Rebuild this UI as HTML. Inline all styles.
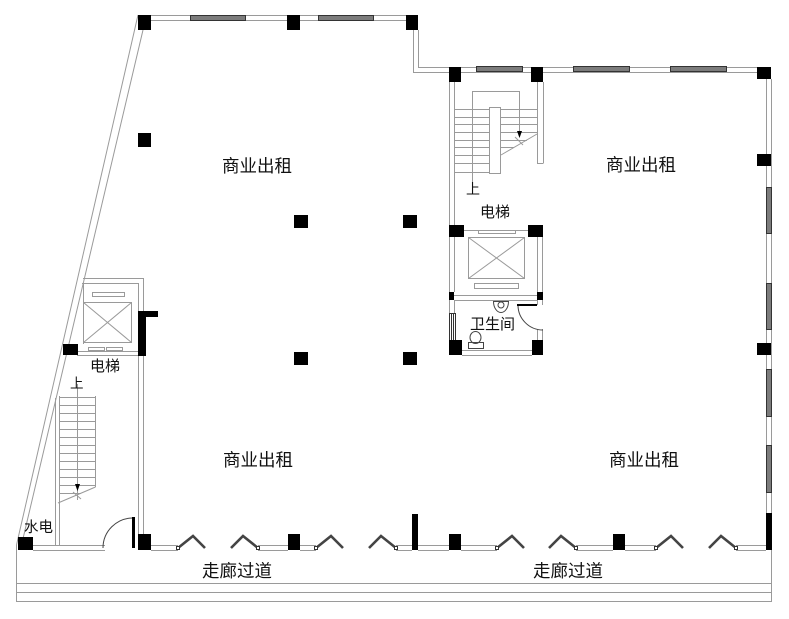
<!DOCTYPE html>
<html><head><meta charset="utf-8">
<style>
html,body{margin:0;padding:0;background:#fff;}
svg{display:block;}
text{font-family:"Liberation Sans","Noto Sans CJK SC",sans-serif;fill:#111;}
</style></head>
<body>
<svg width="789" height="619" viewBox="0 0 789 619" xmlns="http://www.w3.org/2000/svg">
<rect width="789" height="619" fill="#fff"/>
<g stroke="#9a9a9a" stroke-width="1" fill="none">
  <!-- top wall -->
  <line x1="151" y1="15.5" x2="406" y2="15.5"/>
  <line x1="151" y1="20.5" x2="406" y2="20.5"/>
  <!-- notch -->
  <polyline points="418.5,30 418.5,67.5 449,67.5"/>
  <polyline points="413.5,30 413.5,72.5 449,72.5"/>
  <!-- top right row -->
  <line x1="461" y1="67.5" x2="757" y2="67.5"/>
  <line x1="461" y1="72.5" x2="757" y2="72.5"/>
  <!-- right wall -->
  <line x1="766.5" y1="79" x2="766.5" y2="513"/>
  <line x1="771.5" y1="79" x2="771.5" y2="602"/>
  <!-- slanted left wall -->
  <line x1="138" y1="15" x2="16.5" y2="545"/>
  <line x1="143" y1="30" x2="21.5" y2="545"/>
  <!-- main left wall -->
  <line x1="138.5" y1="283" x2="138.5" y2="534"/>
  <line x1="143.5" y1="278" x2="143.5" y2="534"/>
  <!-- left compartment -->
  <line x1="83" y1="278.5" x2="143.5" y2="278.5"/>
  <line x1="82" y1="283.5" x2="138.5" y2="283.5"/>
  <line x1="83.5" y1="283" x2="83.5" y2="344"/>
  <rect x="83.5" y="302.5" width="48" height="40"/>
  <line x1="83.5" y1="302.5" x2="131.5" y2="342.5"/>
  <line x1="131.5" y1="302.5" x2="83.5" y2="342.5"/>
  <rect x="92.5" y="292.5" width="32" height="4"/>
  <rect x="88.5" y="347.5" width="16" height="3"/>
  <rect x="106.5" y="347.5" width="16" height="3"/>
  <line x1="77" y1="351.5" x2="138" y2="351.5"/>
  <line x1="77" y1="355.5" x2="138" y2="355.5"/>
  <!-- left stair compartment -->
  <line x1="55.5" y1="398" x2="55.5" y2="545"/>
  <line x1="59.5" y1="396" x2="59.5" y2="545"/>
  <line x1="95.5" y1="396" x2="95.5" y2="487"/>
  <line x1="77.5" y1="384" x2="77.5" y2="500"/>
  <line x1="59" y1="397.5" x2="95" y2="397.5"/>
  <line x1="59" y1="405.5" x2="95" y2="405.5"/>
  <line x1="59" y1="413.5" x2="95" y2="413.5"/>
  <line x1="59" y1="421.5" x2="95" y2="421.5"/>
  <line x1="59" y1="429.5" x2="95" y2="429.5"/>
  <line x1="59" y1="437.5" x2="95" y2="437.5"/>
  <line x1="59" y1="445.5" x2="95" y2="445.5"/>
  <line x1="59" y1="453.5" x2="95" y2="453.5"/>
  <line x1="59" y1="461.5" x2="95" y2="461.5"/>
  <line x1="59" y1="469.5" x2="95" y2="469.5"/>
  <line x1="59" y1="477.5" x2="95" y2="477.5"/>
  <line x1="59" y1="485.5" x2="95" y2="485.5"/>
  <line x1="59" y1="493.5" x2="81" y2="493.5"/>
  <line x1="58" y1="503" x2="95.5" y2="487"/>
  <line x1="73" y1="492" x2="81" y2="499"/>
  <!-- right stair compartment -->
  <line x1="449.5" y1="82" x2="449.5" y2="225"/>
  <line x1="454.5" y1="82" x2="454.5" y2="225"/>
  <line x1="537.5" y1="82" x2="537.5" y2="163"/>
  <line x1="543.5" y1="82" x2="543.5" y2="163"/>
  <line x1="537" y1="163.5" x2="543.5" y2="163.5"/>
  <polyline points="472.5,183 472.5,91.5 519.5,91.5 519.5,134"/>
  <rect x="489.5" y="107.5" width="11" height="66"/>
  <line x1="454" y1="109.5" x2="489" y2="109.5"/>
  <line x1="454" y1="117.5" x2="489" y2="117.5"/>
  <line x1="454" y1="124.5" x2="489" y2="124.5"/>
  <line x1="454" y1="132.5" x2="489" y2="132.5"/>
  <line x1="454" y1="140.5" x2="489" y2="140.5"/>
  <line x1="454" y1="147.5" x2="489" y2="147.5"/>
  <line x1="454" y1="155.5" x2="489" y2="155.5"/>
  <line x1="454" y1="163.5" x2="489" y2="163.5"/>
  <line x1="454" y1="172.5" x2="489" y2="172.5"/>
  <line x1="501" y1="109.5" x2="537" y2="109.5"/>
  <line x1="501" y1="117.5" x2="537" y2="117.5"/>
  <line x1="501" y1="124.5" x2="537" y2="124.5"/>
  <line x1="501" y1="132.5" x2="537" y2="132.5"/>
  <line x1="501" y1="140.5" x2="527" y2="140.5"/>
  <line x1="501" y1="147.5" x2="514" y2="147.5"/>
  <line x1="501" y1="155" x2="537" y2="134"/>
  <line x1="515" y1="137" x2="523" y2="145"/>
  <!-- right elevator -->
  <line x1="464" y1="230.5" x2="528" y2="230.5"/>
  <rect x="478.5" y="230.5" width="37" height="3"/>
  <line x1="449.5" y1="237" x2="449.5" y2="292"/>
  <line x1="454.5" y1="237" x2="454.5" y2="292"/>
  <line x1="537.5" y1="237" x2="537.5" y2="292"/>
  <line x1="542.5" y1="237" x2="542.5" y2="292"/>
  <rect x="468.5" y="237.5" width="56" height="41"/>
  <line x1="468.5" y1="237.5" x2="524.5" y2="278.5"/>
  <line x1="524.5" y1="237.5" x2="468.5" y2="278.5"/>
  <rect x="474.5" y="283.5" width="44" height="5"/>
  <line x1="454" y1="295.5" x2="537" y2="295.5"/>
  <line x1="454" y1="300.5" x2="537" y2="300.5"/>
  <!-- toilet -->
  <line x1="449.5" y1="300" x2="449.5" y2="313"/>
  <line x1="454.5" y1="300" x2="454.5" y2="313"/>
  <line x1="537.5" y1="300" x2="537.5" y2="305"/>
  <line x1="542.5" y1="300" x2="542.5" y2="305"/>
  <line x1="537.5" y1="329" x2="537.5" y2="340"/>
  <line x1="542.5" y1="329" x2="542.5" y2="340"/>
  <line x1="462" y1="350.5" x2="532" y2="350.5"/>
  <line x1="462" y1="355.5" x2="532" y2="355.5"/>
  <!-- corridor -->
  <line x1="16.5" y1="545" x2="16.5" y2="602"/>
  <line x1="16" y1="583.5" x2="772" y2="583.5"/>
  <line x1="16" y1="592.5" x2="772" y2="592.5"/>
  <line x1="16" y1="601.5" x2="772" y2="601.5"/>
  <!-- bottom wall segments -->
  <path d="M33 545.5H105M151 545.5H178M258 545.5H288M300 545.5H316M396 545.5H412M418 545.5H449M461 545.5H497M576 545.5H613M625 545.5H656M736 545.5H766"/>
  <path d="M33 550.5H105M151 550.5H178M258 550.5H288M300 550.5H316M396 550.5H412M418 550.5H449M461 550.5H497M576 550.5H613M625 550.5H656M736 550.5H766"/>
</g>
<g stroke="#444" stroke-width="1" fill="none">
  <!-- toilet fixtures -->
  <path d="M493.5 301.5 H508.5 A7.5 11 0 0 1 493.5 301.5Z"/>
  <ellipse cx="501" cy="305" rx="3" ry="3"/>
  <ellipse cx="475.5" cy="337.5" rx="5.5" ry="6"/>
  <rect x="468.5" y="342.5" width="15" height="6"/>
  <!-- door arcs -->
  <path d="M133 518 A30 30 0 0 0 103 548"/>
  <path d="M518 305 A25 25 0 0 0 543 330"/>
</g>
<!-- windows -->
<g fill="#7c7c7c" stroke="#333" stroke-width="1">
  <rect x="190.5" y="15.5" width="55" height="5"/>
  <rect x="318.5" y="15.5" width="55" height="5"/>
  <rect x="476.5" y="66.5" width="46" height="5"/>
  <rect x="573.5" y="66.5" width="56" height="5"/>
  <rect x="670.5" y="66.5" width="56" height="5"/>
  <rect x="766.5" y="187.5" width="5" height="46"/>
  <rect x="766.5" y="283.5" width="5" height="46"/>
  <rect x="766.5" y="369.5" width="5" height="47"/>
  <rect x="766.5" y="445.5" width="5" height="47"/>
</g>
<g stroke="#333" stroke-width="1" fill="none">
  <rect x="449.5" y="313.5" width="6" height="27"/>
  <line x1="451.5" y1="313.5" x2="451.5" y2="340.5"/>
  <line x1="453.5" y1="313.5" x2="453.5" y2="340.5"/>
</g>
<!-- columns -->
<g fill="#000">
  <rect x="138" y="15" width="13" height="15"/>
  <rect x="287" y="15" width="13" height="15"/>
  <rect x="406" y="15" width="12" height="15"/>
  <rect x="449" y="67" width="12" height="15"/>
  <rect x="531" y="67" width="12" height="15"/>
  <rect x="757" y="67" width="14" height="12"/>
  <rect x="757" y="154" width="14" height="12"/>
  <rect x="757" y="343" width="14" height="12"/>
  <rect x="138" y="133" width="13" height="14"/>
  <rect x="294" y="215" width="14" height="13"/>
  <rect x="403" y="215" width="14" height="13"/>
  <rect x="294" y="352" width="14" height="13"/>
  <rect x="403" y="352" width="14" height="13"/>
  <rect x="449" y="225" width="15" height="12"/>
  <rect x="528" y="225" width="15" height="12"/>
  <rect x="449" y="292" width="5" height="8"/>
  <rect x="537" y="292" width="6" height="8"/>
  <rect x="449" y="340" width="13" height="15"/>
  <rect x="532" y="340" width="11" height="15"/>
  <rect x="517" y="304" width="20" height="2"/>
  <rect x="63" y="344" width="15" height="11"/>
  <rect x="138" y="311" width="8" height="45"/>
  <rect x="138" y="311" width="20" height="6"/>
  <rect x="18" y="537" width="15" height="13"/>
  <rect x="138" y="534" width="13" height="16"/>
  <rect x="288" y="534" width="12" height="16"/>
  <rect x="449" y="534" width="12" height="16"/>
  <rect x="613" y="534" width="12" height="16"/>
  <rect x="412" y="514" width="6" height="36"/>
  <rect x="766" y="513" width="6" height="37"/>
  <rect x="132" y="517" width="3" height="31"/>
  <polygon points="75,484 80,484 77.5,491"/>
  <polygon points="517,131 522,131 519.5,138"/>
</g>
<!-- folding doors -->
<g stroke="#444" stroke-width="2.6" fill="none" stroke-linejoin="miter">
  <polyline points="178,548 193,536 205,548"/>
  <polyline points="258,548 243,536 231,548"/>
  <polyline points="316,548 331,536 343,548"/>
  <polyline points="396,548 381,536 369,548"/>
  <polyline points="497,548 512,536 524,548"/>
  <polyline points="576,548 561,536 549,548"/>
  <polyline points="656,548 671,536 683,548"/>
  <polyline points="736,548 721,536 709,548"/>
</g>
<g stroke="#333" stroke-width="1" fill="#fff">
  <rect x="176.5" y="546.5" width="3" height="3"/>
  <rect x="256.5" y="546.5" width="3" height="3"/>
  <rect x="314.5" y="546.5" width="3" height="3"/>
  <rect x="394.5" y="546.5" width="3" height="3"/>
  <rect x="495.5" y="546.5" width="3" height="3"/>
  <rect x="574.5" y="546.5" width="3" height="3"/>
  <rect x="654.5" y="546.5" width="3" height="3"/>
  <rect x="734.5" y="546.5" width="3" height="3"/>
</g>
<!-- labels -->
<g font-size="17.5">
  <text x="222" y="172">商业出租</text>
  <text x="606" y="171">商业出租</text>
  <text x="223" y="466">商业出租</text>
  <text x="609" y="466">商业出租</text>
  <text x="202" y="577">走廊过道</text>
  <text x="533" y="577">走廊过道</text>
</g>
<g font-size="15">
  <text x="90" y="371">电梯</text>
  <text x="480" y="217">电梯</text>
  <text x="470" y="329">卫生间</text>
</g>
<text x="24" y="532" font-size="14.5">水电</text>
<text x="70" y="388" font-size="13.5">上</text>
<text x="466" y="194" font-size="14">上</text>
</svg>
</body></html>
